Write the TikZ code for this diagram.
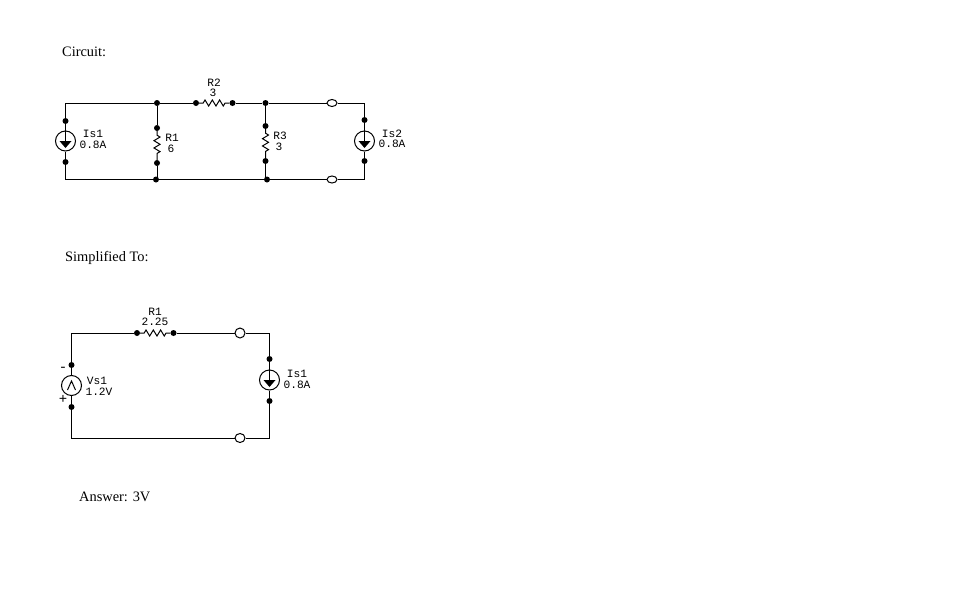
\documentclass[tikz,border=0pt]{standalone}
\usepackage{fontspec}
\setmainfont{Liberation Serif}
\setmonofont{Liberation Mono}
\usetikzlibrary{shapes.geometric,decorations.pathmorphing}
\tikzset{
  wire/.style={line width=1pt},
  pindot/.style={circle,fill=black,inner sep=0pt,minimum size=6pt},
  source/.style={circle,draw,line width=1pt,fill=white,inner sep=0pt,minimum size=20pt},
  openpin/.style={ellipse,draw,line width=1pt,fill=white,inner sep=0pt,minimum width=10pt,minimum height=#1},
  openpin/.default=7pt,
  res/.style={wire,decorate,decoration={zigzag,segment length=7.3pt,amplitude=3pt,pre length=4pt,post length=4pt}},
  lbl/.style={font=\ttfamily\fontsize{11.2}{11}\selectfont,inner sep=0pt},
  signlbl/.style={font=\ttfamily\fontsize{14}{14}\selectfont,inner sep=0pt},
  head/.style={font=\fontsize{14.4}{16}\selectfont,inner sep=0pt,anchor=west}
}
\begin{document}
\begin{tikzpicture}[x=1pt,y=-1pt]
    \useasboundingbox (0,0) rectangle (956,605);

    % Headings
    \node[head] (circuit) at (62,52) {Circuit:};
    \node[head] (simplified) at (65,257.5) {Simplified To:};
    \node[head] (answer) at (79,496.5) {Answer: 3V};

    % First circuit: corners, sources and open pins
    \foreach \Name/\X/\Y in {ca/65.5/103,cb/65.5/179.5,cc/364.5/103,cd/364.5/179.5,ce/157/179.5,cf/265.5/179.5}
    \coordinate (\Name) at (\X,\Y);
    \node[source] (is1) at (65.5,141) {};
    \node[source] (is2) at (364.5,141) {};
    \node[openpin] (opa) at (332,103) {};
    \node[openpin] (opb) at (332,179.5) {};

    % First circuit: dots
    \foreach \Name/\X/\Y in {nb/157/103,nc/156/179.5,ra/157/128,rb/157/163,
      rc/196/103,rd/232.5/103,ne/265.5/103,nf/267/179.5,rg/265.5/126,rh/265.5/161,
      sa/65.5/121,sb/65.5/162,sc/364.5/120,sd/364.5/161}
    \node[pindot] (\Name) at (\X,\Y) {};

    % First circuit: wires
    \draw[wire] (ca) -- (nb) -- (rc);
    \draw[wire] (rd) -- (ne) -- (opa) -- (cc) -- (sc) -- (is2) -- (sd) -- (cd) -- (opb) -- (nf) -- (nc) -- (cb) -- (sb) -- (is1) -- (sa) -- (ca);
    \draw[wire] (nb) -- (ra);
    \draw[wire] (rb) -- (ce);
    \draw[wire] (ne) -- (rg);
    \draw[wire] (rh) -- (cf);
    \draw[res] (ra) -- (rb);
    \draw[res] (rc) -- (rd);
    \draw[res] (rg) -- (rh);

    % Second circuit
    \foreach \Name/\X/\Y in {ta/71.5/333,tb/71.5/438,tc/269.5/333,td/269.5/438}
    \coordinate (\Name) at (\X,\Y);
    \node[source] (vs1) at (71.5,385.5) {};
    \node[source] (is3) at (269.5,380) {};
    \node[openpin=10pt] (opc) at (240,333) {};
    \node[openpin=9pt] (opd) at (240,438) {};
    \foreach \Name/\X/\Y in {ua/71.5/365,ub/71.5/407,uc/137/333,ud/173.5/333,
      ue/269.5/359,uf/269.5/401}
    \node[pindot] (\Name) at (\X,\Y) {};
    \draw[wire] (ta) -- (uc);
    \draw[wire] (ud) -- (opc) -- (tc) -- (ue) -- (is3) -- (uf) -- (td) -- (opd) -- (tb) -- (ub) -- (vs1) -- (ua) -- (ta);
    \draw[res] (uc) -- (ud);

    % Source symbols
    \foreach \Src in {is1,is2,is3}{
      \draw[wire] (\Src.north) -- (\Src.center);
      \fill ([xshift=-6pt]\Src.center) -- ([xshift=6pt]\Src.center) -- ([yshift=-7pt]\Src.center) -- cycle;
    }
    \draw[wire] ([xshift=-4pt,yshift=-4.5pt]vs1.center) -- ([yshift=4.5pt]vs1.center) -- ([xshift=4pt,yshift=-4.5pt]vs1.center);

    % Labels
    \foreach \Name/\X/\Y/\Text in {la/93/134/Is1,lb/93/145/0.8A,lc/172/138/R1,ld/171/149/6,
      le/214/83/R2,lf/213/93/3,lg/280/136/R3,lh/279/147/3,li/392/134/Is2,lj/392/144/0.8A,
      lk/155/312/R1,ll/155/322/2.25,lm/97/381/Vs1,ln/99/392/1.2V,lo/297/374/Is1,lp/297/385/0.8A}
    \node[lbl] (\Name) at (\X,\Y) {\Text};
    \foreach \Name/\X/\Y/\Text in {lq/63/369/-,lr/63/399/+}
    \node[signlbl] (\Name) at (\X,\Y) {\Text};

\end{tikzpicture}
\end{document}
